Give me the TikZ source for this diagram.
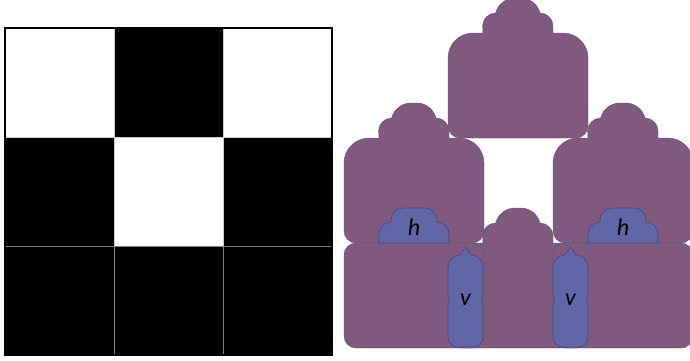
\documentclass[tikz,border=0pt]{standalone}
\usepackage{fontspec}
\usepackage{tikz}
\newfontfamily\labelfont{Carlito}
\definecolor{tilepurple}{RGB}{128,89,127}
\definecolor{tileedge}{RGB}{98,86,122}
\definecolor{pieceblue}{RGB}{97,102,167}
\definecolor{pieceedge}{RGB}{70,74,130}
\tikzstyle{tile} = [fill=tilepurple, draw=tileedge, line width=0.4pt]
\tikzstyle{piece} = [fill=pieceblue, draw=pieceedge, line width=0.6pt]
\tikzstyle{lightgrid} = [draw=black!20, line width=0.8pt]
\tikzstyle{darkgrid} = [draw=black!50, line width=0.8pt]
\tikzstyle{lbl} = [font=\labelfont\itshape\fontsize{24}{28}\selectfont, inner sep=0pt]
\newcommand{\cloudtile}[2]{%
	\begin{scope}[xshift=#1pt,yshift=#2pt]
		\draw[tile] (12,0) -- (128,0) arc[start angle=-90,end angle=0,radius=12] -- (140,80) arc[start angle=0,end angle=90,radius=25] -- (105,105) -- (105,112) arc[start angle=0,end angle=90,radius=13] arc[start angle=14.5,end angle=90,radius=20] -- (67,140) arc[start angle=90,end angle=165.5,radius=20] arc[start angle=90,end angle=180,radius=13] -- (35,105) -- (25,105) arc[start angle=90,end angle=180,radius=25] -- (0,12) arc[start angle=180,end angle=270,radius=12] -- cycle;
	\end{scope}}
\newcommand{\hpiece}[2]{%
	\begin{scope}[xshift=#1pt,yshift=#2pt]
		\draw[piece] (0,0) -- (70,0) -- (70,9) arc[start angle=0,end angle=90,radius=12] -- (58,23) arc[start angle=0,end angle=90,radius=12] -- (24,35) arc[start angle=90,end angle=180,radius=12] -- (12,21) arc[start angle=90,end angle=180,radius=12] -- cycle;
	\end{scope}}
\newcommand{\vpiece}[2]{%
	\begin{scope}[xshift=#1pt,yshift=#2pt]
		\draw[piece] (10,0) -- (25,0) arc[start angle=-90,end angle=0,radius=10] -- (35,44) -- (33.5,48) -- (35,52) -- (35,80) arc[start angle=0,end angle=90,radius=12] -- (17.5,100) -- (12,92) arc[start angle=90,end angle=180,radius=12] -- (0,52) -- (1.5,48) -- (0,44) -- (0,10) arc[start angle=180,end angle=270,radius=10] -- cycle;
	\end{scope}}

\begin{document}
\begin{tikzpicture}[x=1pt,y=1pt]
		\useasboundingbox (0,0) rectangle (690,360);
		\fill[black] (114,223) rectangle (223,332);
		\fill[black] (5,114) rectangle (114,223);
		\fill[black] (223,114) rectangle (332,223);
		\fill[black] (5,5) rectangle (332,114);
		\draw[lightgrid] (114,114) -- (114,332);
		\draw[lightgrid] (223,114) -- (223,332);
		\draw[lightgrid] (5,223) -- (332,223);
		\draw[darkgrid] (5,114) -- (332,114);
		\draw[darkgrid] (114,5) -- (114,114);
		\draw[darkgrid] (223,5) -- (223,114);
		\draw[line width=1.5pt] (5,5) rectangle (332,332);
		\cloudtile{448}{222}
		\cloudtile{448}{12}
		\cloudtile{344}{117}
		\cloudtile{553}{117}
		\draw[tile, rounded corners=12pt] (344,12) rectangle (484,117);
		\draw[tile, rounded corners=12pt] (553,12) rectangle (693,117);
		\hpiece{379}{117}
		\hpiece{588}{117}
		\vpiece{448}{13}
		\vpiece{553}{13}
		\node[lbl] (hleft) at (414,133) {h};
		\node[lbl] (hright) at (623,133) {h};
		\node[lbl] (vleft) at (465.5,60) {v};
		\node[lbl] (vright) at (570.5,60) {v};
\end{tikzpicture}
\end{document}
